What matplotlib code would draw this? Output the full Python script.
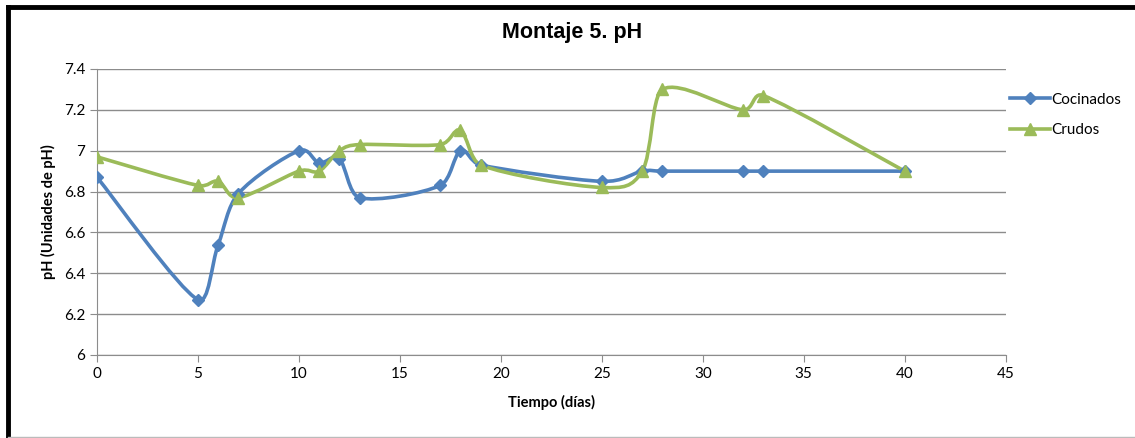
import numpy as np
import matplotlib.pyplot as plt
from matplotlib.path import Path
from matplotlib.patches import PathPatch
from matplotlib.lines import Line2D

dias_coc = [0, 5, 6, 7, 10, 11, 12, 13, 17, 18, 19, 25, 27, 28, 32, 33, 40]
ph_coc = [6.87, 6.27, 6.54, 6.79, 7.00, 6.94, 6.96, 6.77, 6.83, 7.00, 6.93, 6.85, 6.90, 6.90, 6.90, 6.90, 6.90]

dias_cru = [0, 5, 6, 7, 10, 11, 12, 13, 17, 18, 19, 25, 27, 28, 32, 33, 40]
ph_cru = [6.97, 6.83, 6.85, 6.77, 6.90, 6.90, 7.00, 7.03, 7.03, 7.10, 6.93, 6.82, 6.90, 7.30, 7.20, 7.27, 6.90]

azul = '#4F81BD'
verde = '#9BBB59'


def curva_suave(x, y):
    # bezier segments like Excel's "smoothed line"
    p = np.column_stack([x, y]).astype(float)
    n = len(p)
    verts = [p[0]]
    codes = [Path.MOVETO]
    for i in range(n - 1):
        h = p[i + 1][0] - p[i][0]
        p0 = p[i - 1] if i > 0 else p[i]
        p3 = p[i + 2] if i + 2 < n else p[i + 1]
        d1 = (p[i + 1] - p0) / 6
        d2 = (p3 - p[i]) / 6
        # keep handles inside the segment so the curve does not loop back
        lim = 0.55 * h
        if abs(d1[0]) > lim:
            d1 = d1 * lim / abs(d1[0])
        if abs(d2[0]) > lim:
            d2 = d2 * lim / abs(d2[0])
        verts += [p[i] + d1, p[i + 1] - d2, p[i + 1]]
        codes += [Path.CURVE4] * 3
    return Path(verts, codes)


fig = plt.figure(figsize=(11.35, 4.38), dpi=100)
ax = fig.add_axes([0.0855, 0.1895, 0.8005, 0.653])

for x, y, c, m, ms in [(dias_coc, ph_coc, azul, 'D', 6), (dias_cru, ph_cru, verde, '^', 8)]:
    ax.add_patch(PathPatch(curva_suave(x, y), fill=False, edgecolor=c, lw=2.6, zorder=3))
    ax.plot(x, y, ls='none', marker=m, ms=ms, color=c, zorder=4)

ax.set_xlim(0, 45)
ax.set_ylim(6, 7.4)
ax.set_xticks(range(0, 46, 5))
ax.set_yticks([6, 6.2, 6.4, 6.6, 6.8, 7, 7.2, 7.4])
ax.set_yticklabels(['6', '6.2', '6.4', '6.6', '6.8', '7', '7.2', '7.4'])
ax.grid(axis='y', color='#8c8c8c', lw=1)
ax.set_axisbelow(True)
for s in ['top', 'right']:
    ax.spines[s].set_visible(False)
for s in ['left', 'bottom']:
    ax.spines[s].set_color('#8c8c8c')
ax.tick_params(colors='#8c8c8c', length=5, labelcolor='black', labelsize=11)
for lab in ax.get_xticklabels() + ax.get_yticklabels():
    lab.set_family('Lato')

ax.set_xlabel('Tiempo (días)', fontsize=10.5, fontweight='bold', family='Lato', labelpad=10)
ax.set_ylabel('pH (Unidades de pH)', fontsize=10.5, fontweight='bold', family='Lato', labelpad=6)
fig.text(0.504, 0.925, 'Montaje 5. pH', ha='center', va='center', fontsize=15.5,
         fontweight='bold', family='Liberation Sans')

handles = [Line2D([], [], color=azul, lw=2.6, marker='D', ms=6),
           Line2D([], [], color=verde, lw=2.6, marker='^', ms=8)]
fig.legend(handles, ['Cocinados', 'Crudos'], loc='upper left', bbox_to_anchor=(0.878, 0.82),
           frameon=False, prop={'family': 'Lato', 'size': 11}, handlelength=2.6,
           labelspacing=1.1, handletextpad=0.1)

# frame of the screenshot
fig.add_artist(Line2D([0.007, 0.007], [0, 0.985], color='black', lw=3.5, transform=fig.transFigure))
fig.add_artist(Line2D([0.007, 1], [0.985, 0.985], color='black', lw=3.5, transform=fig.transFigure))
fig.add_artist(Line2D([0.007, 1], [0.002, 0.002], color='#bbbbbb', lw=1, transform=fig.transFigure))

fig.savefig('out.png', dpi=100)
